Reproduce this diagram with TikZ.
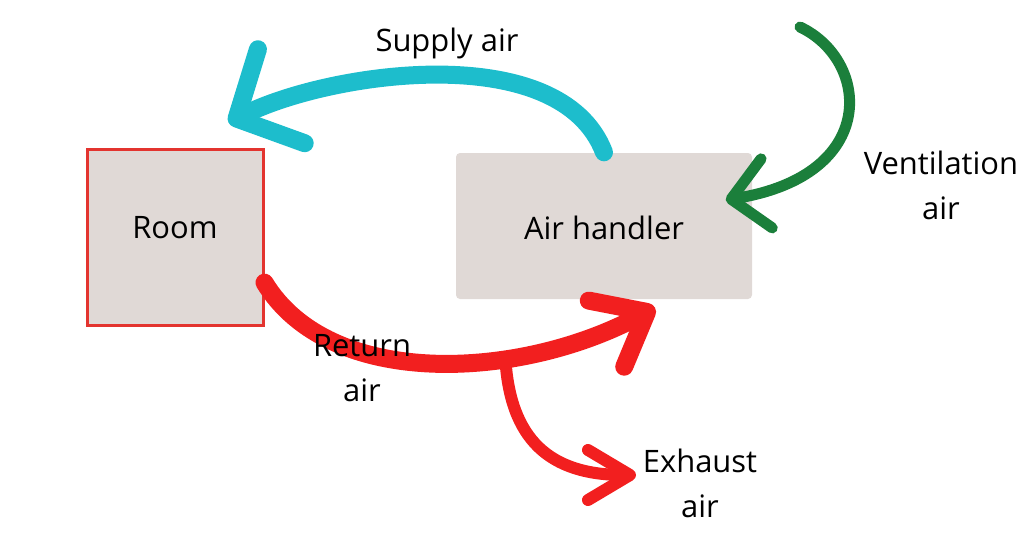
\documentclass[tikz,border=0pt]{standalone}
\usepackage{fontspec}
\setmainfont{Open Sans}
\usepackage{xcolor}
\usetikzlibrary{arrows.meta, calc}

\definecolor{boxgrey}{HTML}{E0D9D6}
\definecolor{roomred}{HTML}{E3342F}
\definecolor{supplycyan}{HTML}{1DBDCC}
\definecolor{ventgreen}{HTML}{1B7F3B}
\definecolor{returnred}{HTML}{F21F1F}

\begin{document}
\begin{tikzpicture}[
    label/.style={font=\fontsize{8.8}{12.8}\selectfont, align=center, text=black},
    unit/.style={fill=boxgrey, inner sep=0pt},
    flow/.style={line cap=round, line join=round}
]
    \useasboundingbox (0,0) rectangle (10.24,-5.36);

    % Boxes
    \node[unit, draw=roomred, line width=0.3mm, minimum width=1.76cm, minimum height=1.76cm] (room) at (1.75,-2.37) {};
    \node[unit, rounded corners=0.4mm, minimum width=2.96cm, minimum height=1.46cm] (ah) at (6.04,-2.26) {};

    % Supply air (cyan)
    \draw[flow, supplycyan, line width=1.8mm, -{Straight Barb[round, length=5mm, width=10.5mm]}]
        (ah.north) .. controls (5.6,-0.38) and (3.3,-0.72) .. ($(room.north east)+(-0.36,0.25)$);
    % Ventilation air (green)
    \draw[flow, ventgreen, line width=1.1mm, -{Straight Barb[round, length=3.6mm, width=7mm]}]
        (8.0,-0.27) .. controls (8.7,-0.6) and (8.8,-1.75) .. ($(ah.east)+(-0.27,0.26)$);
    % Return air (red)
    \draw[flow, returnred, line width=1.8mm, -{Straight Barb[round, length=4.6mm, width=7.5mm]}]
        (room.-27) .. controls (3.3,-3.9) and (5.2,-3.8) .. ($(ah.south)+(0.51,-0.08)$)
        coordinate[pos=0.66] (split);
    % Exhaust air (red)
    \draw[flow, returnred, line width=1.2mm, -{Straight Barb[round, length=4.2mm, width=5mm]}]
        (split) .. controls (5.1,-4.4) and (5.5,-4.75) .. (6.36,-4.75);

    % Labels
    \node[label] (supplylbl) at (4.47,-0.43) {Supply air};
    \node[label] (roomlbl) at ($(room.center)+(0,0.09)$) {Room};
    \node[label] (ahlbl) at ($(ah.center)+(0,-0.02)$) {Air handler};
    \node[label] (ventlbl) at (9.41,-1.85) {Ventilation\\air};
    \node[label] (returnlbl) at (3.62,-3.68) {Return\\air};
    \node[label] (exhaustlbl) at (7.0,-4.83) {Exhaust\\air};
\end{tikzpicture}
\end{document}
